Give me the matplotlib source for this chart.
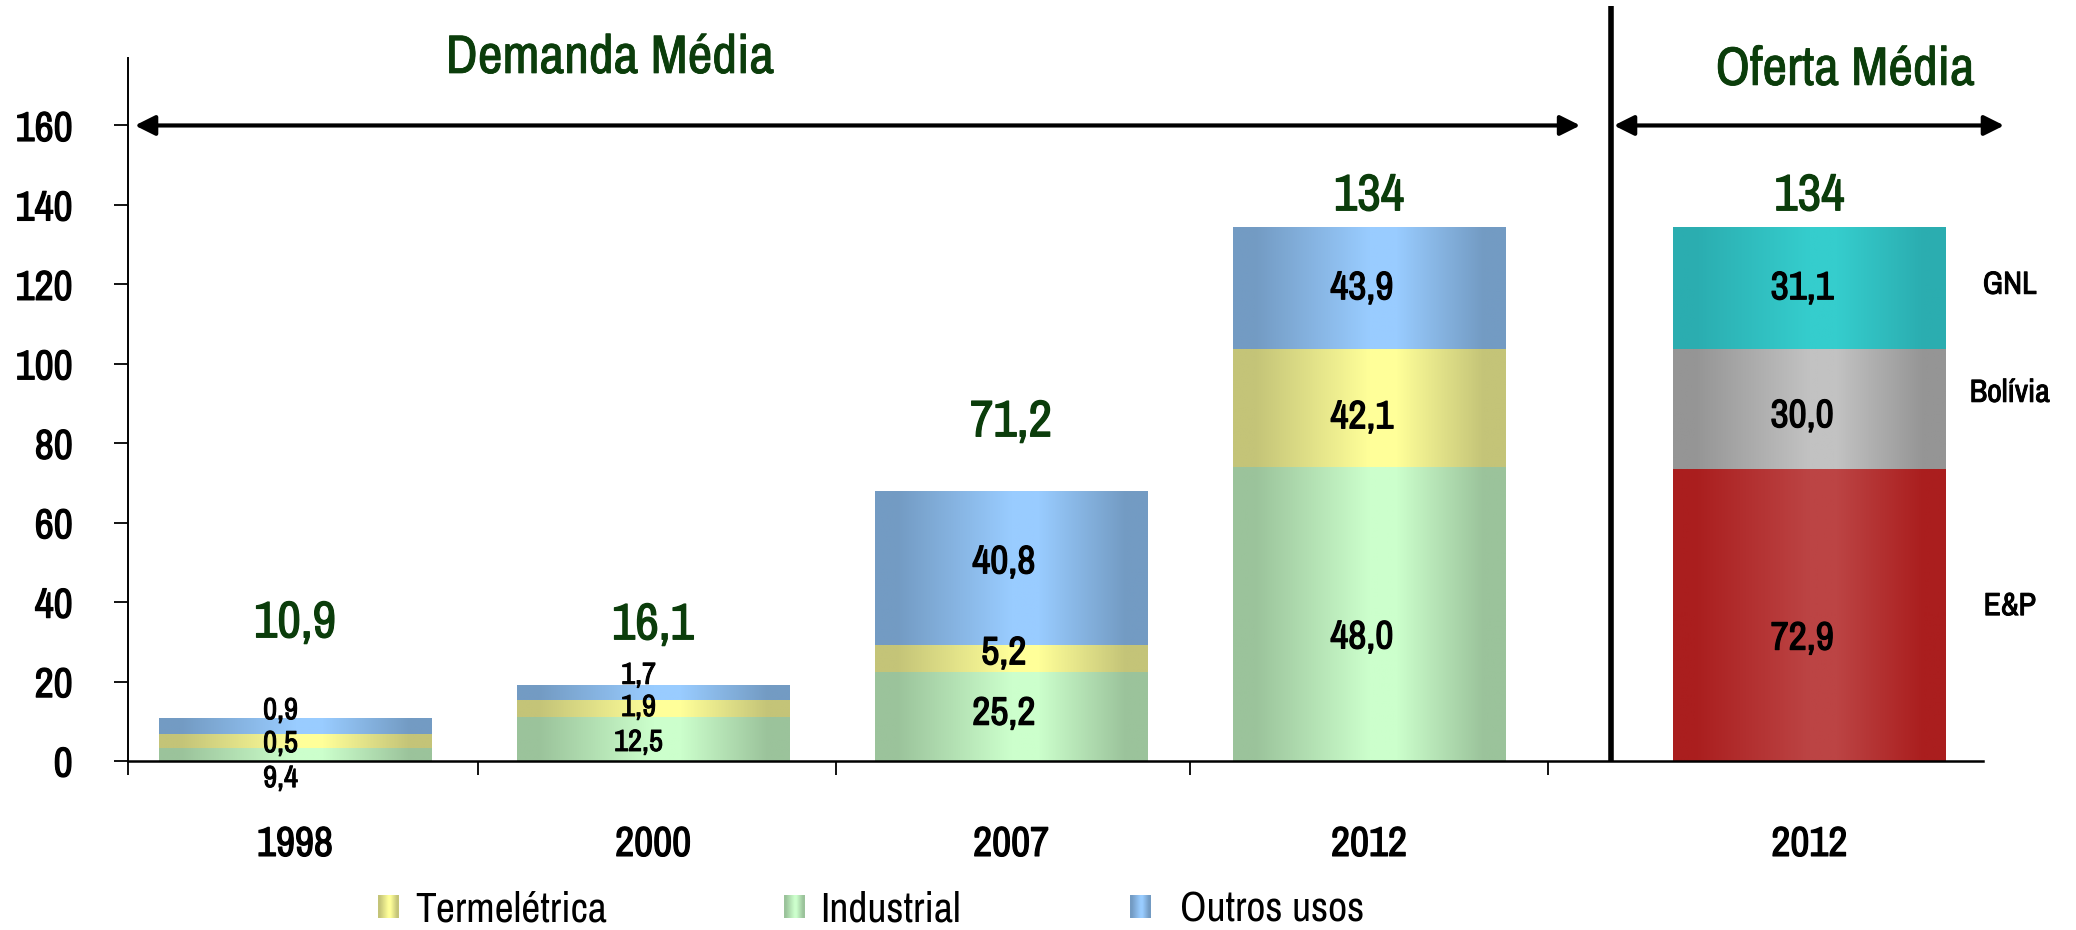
import matplotlib.pyplot as plt
import matplotlib.patheffects as pe
import numpy as np
from matplotlib.colors import LinearSegmentedColormap

plt.rcParams['font.family'] = ['Archivo Narrow', 'Liberation Sans', 'DejaVu Sans']

# demand side (bar segments as drawn in the source; printed labels kept separately)
anos = ['1998', '2000', '2007', '2012']
industrial = [3.3, 11.1, 22.4, 74.1]
termeletrica = [3.5, 4.3, 6.8, 29.7]
outros = [4.0, 3.7, 38.6, 30.5]
industrial_lbl = ['9,4', '12,5', '25,2', '48,0']
termeletrica_lbl = ['0,5', '1,9', '5,2', '42,1']
outros_lbl = ['0,9', '1,7', '40,8', '43,9']
total_lbl = ['10,9', '16,1', '71,2', '134']

# supply side 2012
oferta_ano = '2012'
oferta_nomes = ['E&P', 'Bolívia', 'GNL']
oferta = [73.5, 30.2, 30.5]
oferta_lbl = ['72,9', '30,0', '31,1']
oferta_total_lbl = '134'

green_dark = '#0b3d0b'
cores = {
    'ind': ('#9bc39b', '#ccffcc'),
    'ter': ('#c4c478', '#ffff99'),
    'out': ('#739bc3', '#99ccff'),
    'ep': ('#aa1e1e', '#bc4444'),
    'bol': ('#959595', '#c2c2c2'),
    'gnl': ('#2badb0', '#35cdcd'),
}


def bold(lw, c='black'):
    # thicken the regular narrow face a bit
    return [pe.withStroke(linewidth=lw, foreground=c)]


def grad_cmap(edge, mid):
    return LinearSegmentedColormap.from_list(
        'g', [(0, edge), (0.08, edge), (0.5, mid), (0.6, mid), (0.92, edge), (1, edge)])


def grad_bars(ax, x, h, bottom, cols, width):
    bars = ax.bar(x, h, width, bottom=bottom, color='none', edgecolor='none')
    cmap = grad_cmap(*cols)
    t = np.linspace(0, 1, 256)[None, :]
    for p in bars.patches:
        x0, y0 = p.get_x(), p.get_y()
        ax.imshow(t, cmap=cmap, vmin=0, vmax=1, aspect='auto', zorder=2,
                  extent=[x0, x0 + p.get_width(), y0, y0 + p.get_height()])
    return bars


fig = plt.figure(figsize=(20.76, 9.3), dpi=100)
ax = fig.add_axes([0.0617, 0.1817, 0.8935, 0.756])

xd = np.arange(len(anos))
xo = 4.23
w = 0.76

b1 = np.array(industrial)
b2 = b1 + np.array(termeletrica)
grad_bars(ax, xd, industrial, 0, cores['ind'], w)
grad_bars(ax, xd, termeletrica, b1, cores['ter'], w)
grad_bars(ax, xd, outros, b2, cores['out'], w)

o1 = oferta[0]
o2 = oferta[0] + oferta[1]
grad_bars(ax, [xo], [oferta[0]], 0, cores['ep'], w)
grad_bars(ax, [xo], [oferta[1]], o1, cores['bol'], w)
grad_bars(ax, [xo], [oferta[2]], o2, cores['gnl'], w)

# segment labels (y positions as placed in the source)
ind_y = [-4.3, 4.8, 11.8, 31.0]
ter_y = [4.5, 13.6, 27.0, 86.4]
out_y = [12.8, 21.7, 49.9, 118.9]
for i in range(len(anos)):
    fs = 22 if i < 2 else 28.5
    for lbl, yy in ((industrial_lbl[i], ind_y[i]), (termeletrica_lbl[i], ter_y[i]),
                    (outros_lbl[i], out_y[i])):
        ax.text(xd[i] - (0.04 if i < 2 else 0.02), yy, lbl, ha='center', va='center',
                fontsize=fs, zorder=4, path_effects=bold(0.7 if i < 2 else 0.9))

tot_y = [34.8, 34.3, 85.4, 142.3]
for i in range(len(anos)):
    ax.text(xd[i], tot_y[i], total_lbl[i], ha='center', va='center',
            fontsize=37, color=green_dark, zorder=4,
            path_effects=bold(0.9, green_dark))
ax.text(xo, 142.3, oferta_total_lbl, ha='center', va='center',
        fontsize=37, color=green_dark, zorder=4, path_effects=bold(0.9, green_dark))

for lbl, yy in zip(oferta_lbl, [30.7, 86.7, 118.9]):
    ax.text(xo - 0.02, yy, lbl, ha='center', va='center', fontsize=28.5,
            zorder=4, path_effects=bold(0.9))
for nome, yy in zip(oferta_nomes, [39.0, 92.7, 119.9]):
    ax.text(4.79, yy, nome, ha='center', va='center', fontsize=23,
            path_effects=bold(0.7))

# section titles, arrows and divider
ax.text(0.88, 177, 'Demanda Média', ha='center', va='center', fontsize=39,
        color=green_dark, clip_on=False, path_effects=bold(0.6, green_dark))
ax.text(4.33, 174, 'Oferta Média', ha='center', va='center', fontsize=39,
        color=green_dark, clip_on=False, path_effects=bold(0.6, green_dark))
arr = dict(arrowstyle='<|-|>', lw=3, color='black', mutation_scale=30,
           shrinkA=0, shrinkB=0)
ax.annotate('', xy=(3.59, 160), xytext=(-0.447, 160), arrowprops=arr,
            annotation_clip=False)
ax.annotate('', xy=(4.774, 160), xytext=(3.684, 160), arrowprops=arr,
            annotation_clip=False)
ax.plot([3.676, 3.676], [0, 190], color='black', lw=4, clip_on=False,
        solid_capstyle='butt', zorder=5)

ax.set_xlim(-0.466, 4.715)
ax.set_ylim(0, 177)
ax.set_yticks(np.arange(0, 161, 20))
ax.tick_params(axis='y', length=10, width=1.3, pad=30, labelsize=30)
for t in ax.get_yticklabels():
    t.set_path_effects(bold(0.9))

ax.set_xticks([-0.466, 0.51, 1.51, 2.5, 3.5])
ax.set_xticklabels([])
ax.set_xticks(list(xd) + [xo], minor=True)
ax.set_xticklabels(anos + [oferta_ano], minor=True, fontsize=30)
for t in ax.get_xticklabels(minor=True):
    t.set_path_effects(bold(0.9))
ax.tick_params(axis='x', which='major', length=10, width=1.3)
ax.tick_params(axis='x', which='minor', length=0, pad=46)

for s in ('top', 'right'):
    ax.spines[s].set_visible(False)
ax.spines['left'].set_linewidth(1.4)
ax.spines['bottom'].set_linewidth(1.8)
ax.spines['bottom'].set_zorder(3)

# legend
leg_items = [('Termelétrica', 'ter', 378, 415), ('Industrial', 'ind', 784, 820),
             ('Outros usos', 'out', 1130, 1180)]
W, H = 2076, 930
for nome, k, px, tx in leg_items:
    lax = fig.add_axes([px / W, (H - 918) / H, 21 / W, 23 / H])
    lax.imshow(np.linspace(0, 1, 64)[None, :], cmap=grad_cmap(*cores[k]),
               aspect='auto', vmin=0, vmax=1)
    lax.axis('off')
    fig.text(tx / W, (H - 909) / H, nome, ha='left', va='center', fontsize=30)

fig.savefig('out.png', dpi=100)
